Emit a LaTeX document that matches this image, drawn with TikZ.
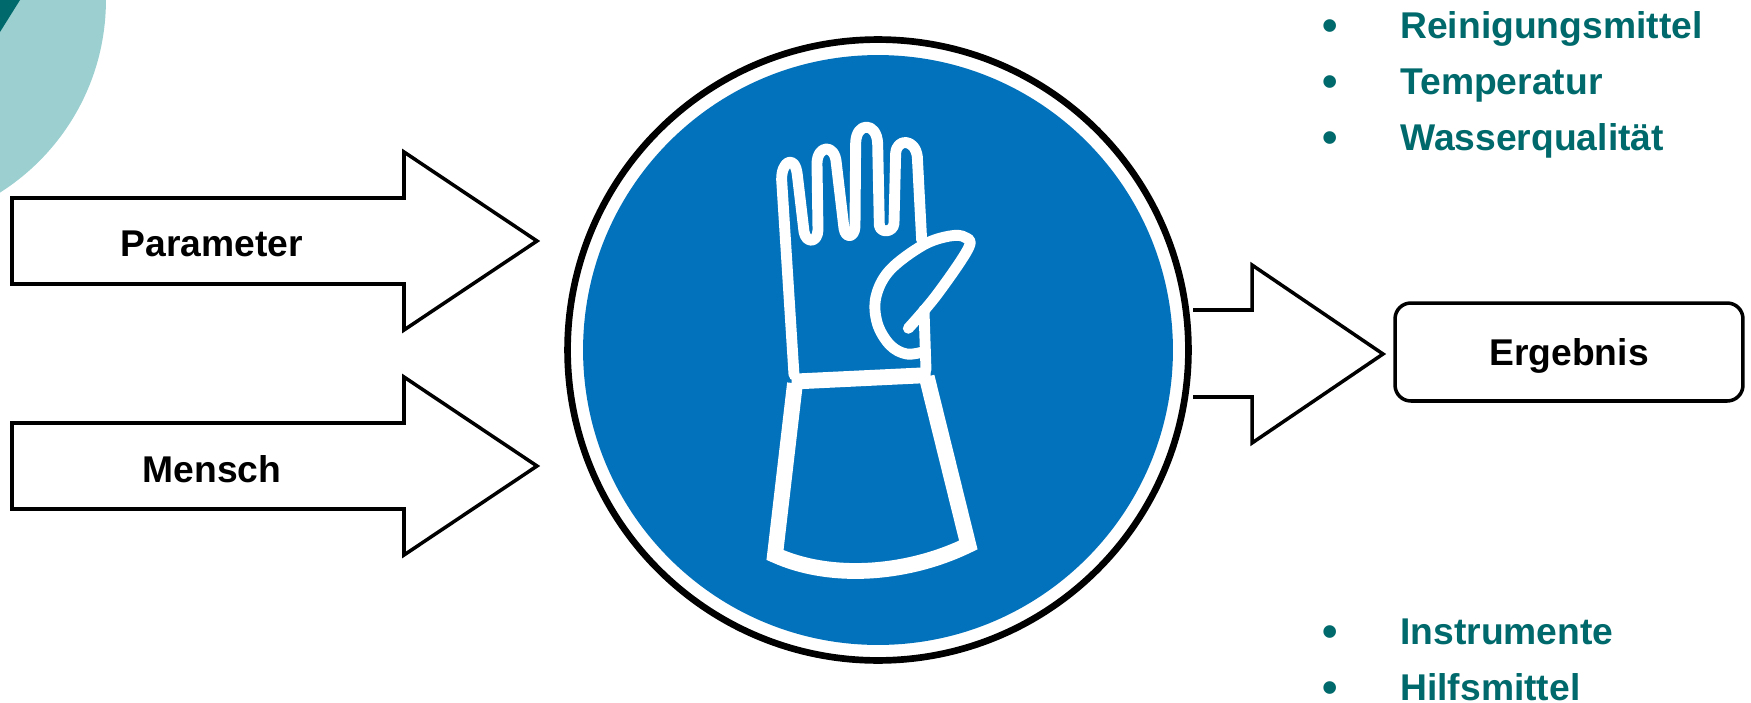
\documentclass[tikz,border=0pt]{standalone}
\usepackage{fontspec}
\setmainfont{Liberation Sans}
\usepackage{xcolor}
\usetikzlibrary{positioning}
\definecolor{signblue}{HTML}{0272BC}
\definecolor{deckteal}{HTML}{00696B}
\definecolor{palteal}{HTML}{9CCFCF}
\tikzset{
  blockarrow/.style = {draw=black, fill=white, line width=2pt, miter limit=10},
  boxlabel/.style   = {font=\fontsize{21.2}{25}\selectfont\bfseries, text=black, inner sep=0pt},
  itemlabel/.style  = {font=\fontsize{21.2}{25}\selectfont\bfseries, text=deckteal, inner sep=0pt, anchor=base west},
  itembullet/.style = {font=\fontsize{25}{25}\selectfont\bfseries, text=deckteal, inner sep=0pt, anchor=base},
  resultbox/.style  = {draw=black, fill=white, line width=2pt, rounded corners=9pt, minimum width=6.96cm,
                       minimum height=1.96cm, inner sep=0pt},
  glovethin/.style  = {draw=white, line width=6.2pt, line cap=round, line join=round},
  glovethick/.style = {draw=white, line width=9pt, line join=miter},
}

\begin{document}
\begin{tikzpicture}[x=0.02cm, y=-0.02cm]
\useasboundingbox (0,0) rectangle (1751,703);

% ---------------- corner decoration -----------------------------------
\begin{scope}
  \clip (0,0) rectangle (1751,703);
  \fill[palteal] (-122,0) circle [radius=4.56cm];
  \fill[deckteal] (0,0) -- (20,0) -- (0,32) -- cycle;
\end{scope}

% ---------------- the sign --------------------------------------------
\node[circle, draw=black, fill=white, line width=3.8pt, minimum size=12.42cm, inner sep=0pt] (ring) at (878,350) {};
\node[circle, fill=signblue, minimum size=11.8cm, inner sep=0pt] (disc) at (878,350) {};

\begin{scope}[shift={(720,100)}, x=0.00667cm, y=-0.00667cm]
  % hand
  \draw[glovethin] (222,825) -- (185,240)
    .. controls (183,185) and (225,160) .. (232,225) -- (252,395)
    .. controls (258,430) and (292,430) .. (294,390) -- (291,190)
    .. controls (292,135) and (345,130) .. (349,190) -- (372,385)
    .. controls (376,415) and (403,415) .. (405,380) -- (407,130)
    .. controls (408,65) and (470,65) .. (473,130) -- (478,375)
    .. controls (480,400) and (520,398) .. (522,370) -- (527,160)
    .. controls (530,115) and (585,115) .. (592,170) -- (605,420);
  % thumb
  \draw[glovethin] plot[smooth, tension=0.6] coordinates {
    (565,685) (650,585) (745,445) (735,412) (690,408) (610,435) (510,510) (468,590) (472,670)
    (510,735) (560,762) (612,755)};
  \draw[glovethin] (612,630) -- (618,810);
  % cuff
  \draw[glovethick] (215,845) -- (632,825);
  \draw[glovethick] (225,850) -- (165,1365) .. controls (330,1440) and (560,1425) .. (745,1335) -- (620,830);
\end{scope}

% ---------------- arrows into the sign --------------------------------
\foreach \i/\y/\t in {parameter/241/Parameter, mensch/466/Mensch} {
  \draw[blockarrow] (12,\y-43) -- (404,\y-43) -- (404,\y-89) -- (537,\y) -- (404,\y+89)
    -- (404,\y+43) -- (12,\y+43) -- cycle;
  \node[boxlabel] (\i) at (212,\y+3) {\t};
}

% ---------------- the result ------------------------------------------
\draw[blockarrow] (1193,310) -- (1252,310) -- (1252,265) -- (1383,354) -- (1252,443) -- (1252,397) -- (1193,397);
\node[resultbox] (ergebnis) at (1569,352) {};
\node[boxlabel] (ergebnistext) at (1569,356) {Ergebnis};

% ---------------- the two lists ---------------------------------------
\foreach \i/\y/\t in {rein/38/Reinigungsmittel, temp/94/Temperatur, wasser/150/Wasserqualit\"at,
                      instr/644/Instrumente, hilf/700/Hilfsmittel} {
  \node[itembullet] (b\i) at (1330,\y+2) {•};
  \node[itemlabel] (\i) at (1400,\y) {\t};
}

\end{tikzpicture}
\end{document}
